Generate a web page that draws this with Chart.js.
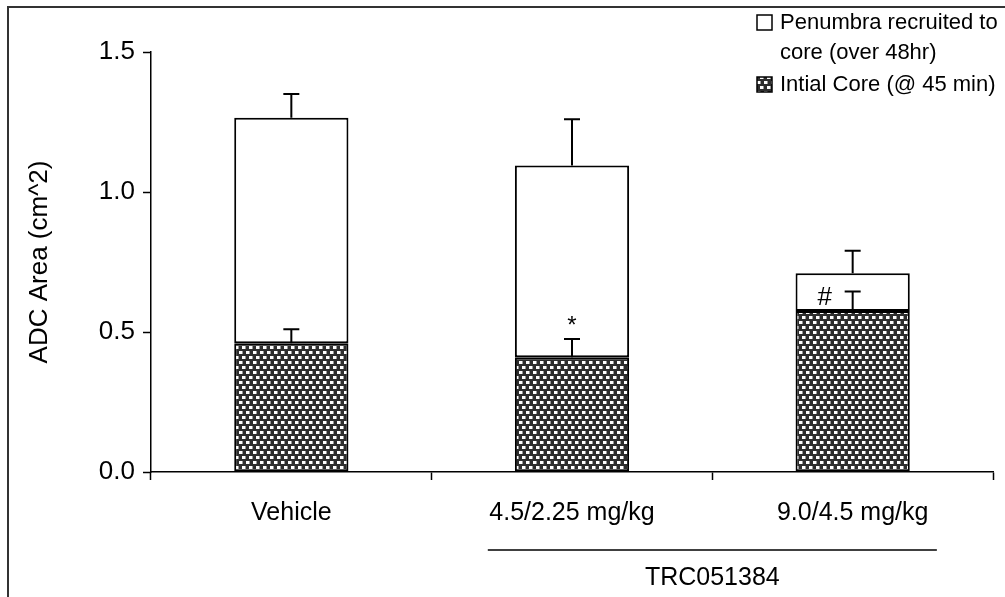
<!DOCTYPE html>
<html>
<head>
<meta charset="utf-8">
<script src="https://cdn.jsdelivr.net/npm/chart.js@4"></script>
<style>
  html, body { margin: 0; padding: 0; background: #fff; }
</style>
</head>
<body>
<canvas id="myChart" width="1005" height="597"></canvas>
<script>
const categories = ["Vehicle", "4.5/2.25 mg/kg", "9.0/4.5 mg/kg"];
const coreValues = [0.46, 0.41, 0.575];
const coreErrors = [0.05, 0.065, 0.07];
const penumbraValues = [0.805, 0.685, 0.135];
const totalErrors = [0.085, 0.165, 0.08];
const significance = ["", "*", "#"];
const yTicks = [0, 0.5, 1.0, 1.5];
const legendTexts = [["Penumbra recruited to", "core (over 48hr)"], ["Intial Core (@ 45 min)"]];
const groupLabel = "TRC051384";
const groupMembers = [1, 2];

const FONT = "Liberation Sans, Arial, sans-serif";

function makeDots() {
  let c = document.createElement("canvas");
  c.width = 7;
  c.height = 10;
  let g = c.getContext("2d");
  g.fillStyle = "#2e2e2e";
  g.fillRect(0, 0, 7, 10);
  g.fillStyle = "#fff";
  g.fillRect(1, 1, 3, 3);
  g.fillRect(4, 6, 3, 3);
  g.fillRect(-3, 6, 3, 3);
  g.fillStyle = "#999";
  g.fillRect(4, 1, 1, 3);
  g.fillRect(0, 6, 1, 3);
  return g.createPattern(c, "repeat");
}
const dots = makeDots();

// outer frame + legend + error bars + marks + group label
const extras = {
  id: "extras",
  beforeDraw(chart) {
    let ctx = chart.ctx;
    ctx.save();
    ctx.strokeStyle = "#333";
    ctx.lineWidth = 2;
    ctx.beginPath();
    ctx.moveTo(8, 597);
    ctx.lineTo(8, 7);
    ctx.lineTo(1005, 7);
    ctx.stroke();
    ctx.restore();
  },
  afterDatasetsDraw(chart) {
    let ctx = chart.ctx;
    let x = chart.scales.x;
    let y = chart.scales.y;
    ctx.save();
    ctx.strokeStyle = "#000";
    ctx.lineWidth = 2;
    categories.forEach((cat, i) => {
      let cx = x.getPixelForValue(i);
      let coreTop = coreValues[i];
      let total = coreValues[i] + penumbraValues[i];
      [[coreTop, coreErrors[i]], [total, totalErrors[i]]].forEach(([v, e]) => {
        let y0 = y.getPixelForValue(v);
        let y1 = y.getPixelForValue(v + e);
        ctx.beginPath();
        ctx.moveTo(cx, y0);
        ctx.lineTo(cx, y1);
        ctx.moveTo(cx - 8, y1);
        ctx.lineTo(cx + 8, y1);
        ctx.stroke();
      });
      // significance marks
      let s = significance[i];
      if (s) {
        let capY = y.getPixelForValue(coreTop + coreErrors[i]);
        ctx.fillStyle = "#000";
        ctx.textAlign = "center";
        ctx.textBaseline = "middle";
        if (s == "*") {
          ctx.font = "24px " + FONT;
          ctx.fillText(s, cx, capY - 13);
        } else {
          ctx.font = "26px " + FONT;
          ctx.fillText(s, cx - 28, capY + 6);
        }
      }
    });

    // group bracket
    let step = x.getPixelForValue(1) - x.getPixelForValue(0);
    let gx0 = x.getPixelForValue(groupMembers[0]) - step * 0.3;
    let gx1 = x.getPixelForValue(groupMembers[groupMembers.length - 1]) + step * 0.3;
    ctx.lineWidth = 1.5;
    ctx.beginPath();
    ctx.moveTo(gx0, 550);
    ctx.lineTo(gx1, 550);
    ctx.stroke();
    ctx.fillStyle = "#000";
    ctx.font = "25px " + FONT;
    ctx.textAlign = "center";
    ctx.textBaseline = "middle";
    ctx.fillText(groupLabel, (gx0 + gx1) / 2, 578);

    // legend
    let fills = ["#fff", dots];
    let rowY = [23, 85];
    ctx.textAlign = "left";
    ctx.font = "22px " + FONT;
    legendTexts.forEach((lines, k) => {
      ctx.fillStyle = fills[k];
      ctx.fillRect(757, rowY[k] - 8, 15, 15);
      ctx.lineWidth = 1.5;
      ctx.strokeStyle = "#000";
      ctx.strokeRect(757, rowY[k] - 8, 15, 15);
      ctx.fillStyle = "#000";
      lines.forEach((t, j) => {
        ctx.fillText(t, 780, rowY[k] + j * 30);
      });
    });
    ctx.restore();
  },
};

new Chart("myChart", {
  type: "bar",
  data: {
    labels: categories,
    datasets: [
      {
        label: "Intial Core (@ 45 min)",
        data: coreValues,
        backgroundColor: dots,
        borderColor: "#000",
        borderWidth: 2,
        borderSkipped: false,
      },
      {
        label: "Penumbra recruited to core (over 48hr)",
        data: penumbraValues,
        backgroundColor: "#fff",
        borderColor: "#000",
        borderWidth: 2,
        borderSkipped: false,
      },
    ],
  },
  options: {
    responsive: false,
    animation: false,
    layout: { padding: { top: 52, right: 12, left: 0, bottom: 0 } },
    datasets: { bar: { categoryPercentage: 1, barPercentage: 0.407 } },
    plugins: {
      legend: { display: false },
      tooltip: { enabled: false },
    },
    scales: {
      x: {
        stacked: true,
        afterFit: (s) => { s.height = 125; },
        grid: { drawOnChartArea: false, offset: true, tickLength: 8, color: "#000", tickWidth: 1.5 },
        border: { color: "#000", width: 1.5 },
        ticks: { color: "#000", padding: 18, font: { family: FONT, size: 25 } },
      },
      y: {
        stacked: true,
        min: 0,
        max: 1.5,
        afterFit: (s) => { s.width = 151; },
        afterBuildTicks: (s) => { s.ticks = yTicks.map((v) => ({ value: v })); },
        grid: { drawOnChartArea: false, tickLength: 8, color: "#000", tickWidth: 1.5 },
        border: { color: "#000", width: 1.5 },
        ticks: {
          color: "#000",
          padding: 8,
          font: { family: FONT, size: 26 },
          callback: (v) => Number(v).toFixed(1),
        },
        title: {
          display: true,
          text: "ADC Area (cm^2)",
          color: "#000",
          font: { family: FONT, size: 26 },
          padding: { top: 24, bottom: 0 },
        },
      },
    },
  },
  plugins: [extras],
});
</script>
</body>
</html>
